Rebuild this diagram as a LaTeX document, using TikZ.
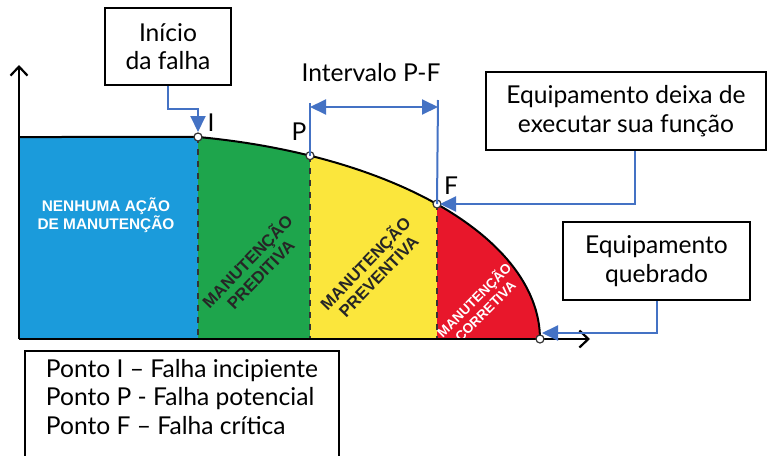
\documentclass[tikz,border=0pt]{standalone}
\usepackage{fontspec}
\setmainfont{Lato}
\newfontfamily\stagefont{Liberation Sans}
\usetikzlibrary{arrows.meta, positioning, calc}
\definecolor{stageblue}{HTML}{1B9BDB}
\definecolor{stagegreen}{HTML}{1EA54C}
\definecolor{stageyellow}{HTML}{FBE63C}
\definecolor{stagered}{HTML}{E8172B}
\definecolor{pointerblue}{HTML}{4472C4}

\begin{document}
\begin{tikzpicture}[
  x=0.5pt, y=-0.5pt,
  callout/.style={rectangle, draw=black, line width=1pt, fill=white, font=\fontsize{12.3}{14.3}\selectfont, align=center, inner sep=0pt},
  pointer/.style={-{Triangle[length=8pt, width=7.5pt]}, draw=pointerblue, line width=1pt},
  axisline/.style={-{Straight Barb[length=4.5pt, width=8.5pt]}, line width=1.1pt},
  stagedark/.style={font=\stagefont\bfseries\fontsize{8.4}{9.2}\selectfont, text=black!85, align=center, rotate=46},
  stagelight/.style={font=\stagefont\bfseries\fontsize{7.7}{9}\selectfont, text=white, align=center},
  pointdot/.style={circle, draw=black!80, fill=white, line width=0.6pt, inner sep=0pt, minimum size=4pt},
  ptlabel/.style={font=\fontsize{12.3}{14.3}\selectfont, inner sep=0pt}
]
  \useasboundingbox (0,0) rectangle (768,456);

  % Points on the curve
  \coordinate (ptI) at (198,137);
  \coordinate (ptP) at (310,155.7);
  \coordinate (ptF) at (437,204);
  \coordinate (ptE) at (540,339);

  % Stages
  \begin{scope}
    \clip (19,137) -- plot[domain=79.3:0, samples=60] ({120+420*cos(\x)}, {339-205.6*sin(\x)}) -- (19,339) -- cycle;
    \fill[stageblue] (19,130) rectangle (198,340);
    \fill[stagegreen] (198,130) rectangle (310,340);
    \fill[stageyellow] (310,130) rectangle (437,340);
    \fill[stagered] (437,130) rectangle (545,340);
  \end{scope}
  \draw[dashed, black!80, line width=0.6pt] (ptI) -- (198,339);
  \draw[dashed, black!80, line width=0.6pt] (ptP) -- (310,339);
  \draw[dashed, black!80, line width=0.6pt] (ptF) -- (437,339);
  \draw[line width=1pt] (19,137) -- plot[domain=79.3:0, samples=60] ({120+420*cos(\x)}, {339-205.6*sin(\x)});

  % Stage labels
  \node[stagelight] (nenhuma) at (106,215) {NENHUMA AÇÃO\\DE MANUTENÇÃO};
  \node[stagedark] (preditiva) at (253,267) {MANUTENÇÃO\\PREDITIVA};
  \node[stagedark] (preventiva) at (371,269) {MANUTENÇÃO\\PREVENTIVA};
  \node[stagelight, rotate=45, font=\stagefont\bfseries\fontsize{6.8}{7.8}\selectfont] (corretiva) at (479,305) {MANUTENÇÃO\\CORRETIVA};

  % Axes
  \coordinate (origin) at (19,339);
  \coordinate (ytip) at (19,65);
  \coordinate (xtip) at (590,339);
  \draw[axisline] (origin) -- (ytip);
  \draw[axisline] (origin) -- (xtip);

  % Points
  \node[pointdot] (dotI) at (ptI) {};
  \node[pointdot] (dotP) at (ptP) {};
  \node[pointdot] (dotF) at (ptF) {};
  \node[pointdot] (dotE) at (ptE) {};
  \node[ptlabel] (labI) at (211,123) {I};
  \node[ptlabel] (labP) at (299,132) {P};
  \node[ptlabel] (labF) at (451,186) {F};

  % Callouts
  \node[callout, minimum width=63pt, minimum height=38.5pt] (inicio) at (168,46.5) {Início\\da falha};
  \node[callout, minimum width=140pt, minimum height=39pt] (deixa) at (626,111) {Equipamento deixa de\\executar sua função};
  \node[callout, minimum width=93.5pt, minimum height=39pt] (quebrado) at (656.5,261) {Equipamento\\quebrado};
  \node[callout, anchor=north west, align=left, inner xsep=10.5pt, inner ysep=4pt, text depth=24pt] (legenda) at (24,350) {Ponto I – Falha incipiente\\Ponto P - Falha potencial\\Ponto F – Falha crítica};

  % Interval P-F
  \coordinate (pfLeft) at (310,103);
  \coordinate (pfRight) at (438,100);
  \node[ptlabel] (intervalo) at (371,73) {Intervalo P-F};
  \draw[pointerblue, line width=1pt] (ptP) -- (pfLeft);
  \draw[pointerblue, line width=1pt] (ptF) -- (pfRight);
  \draw[pointerblue, line width=1pt, {Triangle[length=8pt, width=7.5pt]}-{Triangle[length=8pt, width=7.5pt]}] (310,107) -- (438,107);

  % Arrows
  \coordinate (tipQ) at (542,333);
  \draw[pointer, shorten >=2.5pt] (inicio.south) -- ++(0,23) -| (ptI);
  \draw[pointer, shorten >=1.5pt] ([xshift=4.5pt]deixa.south) |- (ptF);
  \draw[pointer] (quebrado.south) |- (tipQ);
\end{tikzpicture}
\end{document}
